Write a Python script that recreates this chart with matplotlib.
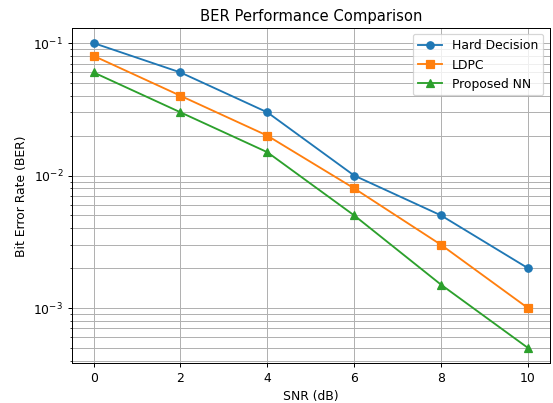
import numpy as np
import matplotlib.pyplot as plt

snr = [0, 2, 4, 6, 8, 10]
ber_hard = [0.1, 0.06, 0.03, 0.01, 0.005, 0.002]
ber_ldpc = [0.08, 0.04, 0.02, 0.008, 0.003, 0.001]
ber_nn = [0.06, 0.03, 0.015, 0.005, 0.0015, 0.0005]

dpi = 88.8
fig, ax = plt.subplots(figsize=(553.4 / dpi, 403.4 / dpi), dpi=dpi)
ax.semilogy(snr, ber_hard, 'o-', label='Hard Decision')
ax.semilogy(snr, ber_ldpc, 's-', label='LDPC')
ax.semilogy(snr, ber_nn, '^-', label='Proposed NN')
ax.set_xlabel('SNR (dB)')
ax.set_ylabel('Bit Error Rate (BER)')
ax.set_title('BER Performance Comparison')
ax.grid(True, which='both')
ax.legend()
fig.subplots_adjust(left=0.130, right=0.993, top=0.930, bottom=0.099)
fig.savefig('out.png', dpi=dpi)
